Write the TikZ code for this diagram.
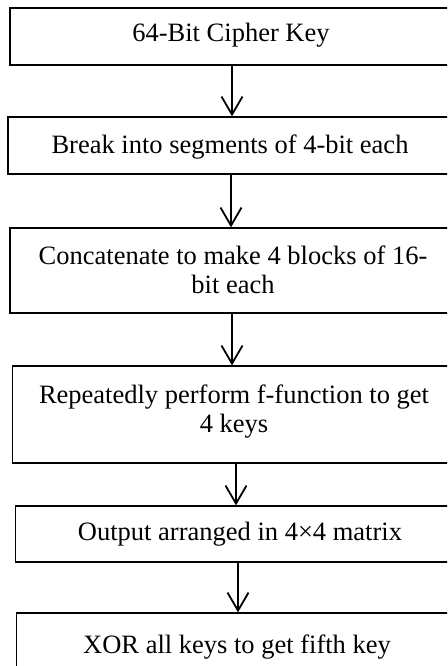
\documentclass[tikz,border=0pt]{standalone}
\usepackage{fontspec}
\setmainfont{Liberation Serif}
\usetikzlibrary{arrows.meta}
\tikzset{
  stepbox/.style={draw=black, line width=1.3pt, rectangle, inner sep=0pt},
  txt/.style={font=\fontsize{26.5}{29}\selectfont, align=center, inner sep=0pt, anchor=base},
  arr/.style={line width=1.8pt, -{Straight Barb[length=18pt, width=21pt, line width=1.8pt]}}
}
\newcommand{\boxat}[5]{% name, x1, y1, x2, y2
  \node[stepbox, minimum width={(#4-#2)*1pt}, minimum height={(#5-#3)*1pt}] (#1) at ({(#2+#4)/2},{(#3+#5)/2}) {};}
\begin{document}
\begin{tikzpicture}[x=1pt, y=-1pt]
\useasboundingbox (0,0) rectangle (447,666);
\clip (0,0) rectangle (447,666);
\fill[white] (0,0) rectangle (447,666);
\boxat{b1}{10}{8}{452}{65}
\boxat{b2}{8}{117}{452}{174}
\boxat{b3}{10}{228}{456}{313}
\boxat{b4}{12.7}{366}{455.3}{463}
\boxat{b5}{15.7}{506}{464.3}{562}
\boxat{b6}{16.7}{613}{457.3}{672}
\node[txt] (t1) at (231,42) {64-Bit Cipher Key};
\node[txt] (t2) at (230,153) {Break into segments of 4-bit each};
\node[txt] (t3) at (233,293) {Concatenate to make 4 blocks of 16-\\bit each};
\node[txt] (t4) at (234,432) {Repeatedly perform f-function to get\\4 keys};
\node[txt] (t5) at (240,540) {Output arranged in 4×4 matrix};
\node[txt] (t6) at (237,653) {XOR all keys to get fifth key};
\draw[arr] ([xshift=1]b1.south) -- ([xshift=1]b1.south |- b2.north);
\draw[arr] ([xshift=1]b2.south) -- ([xshift=1]b2.south |- b3.north);
\draw[arr] ([xshift=-1]b3.south) -- ([xshift=-1]b3.south |- b4.north);
\draw[arr] ([xshift=2]b4.south) -- ([xshift=2]b4.south |- b5.north);
\draw[arr] ([xshift=-2]b5.south) -- ([xshift=-2]b5.south |- b6.north);
\end{tikzpicture}
\end{document}
